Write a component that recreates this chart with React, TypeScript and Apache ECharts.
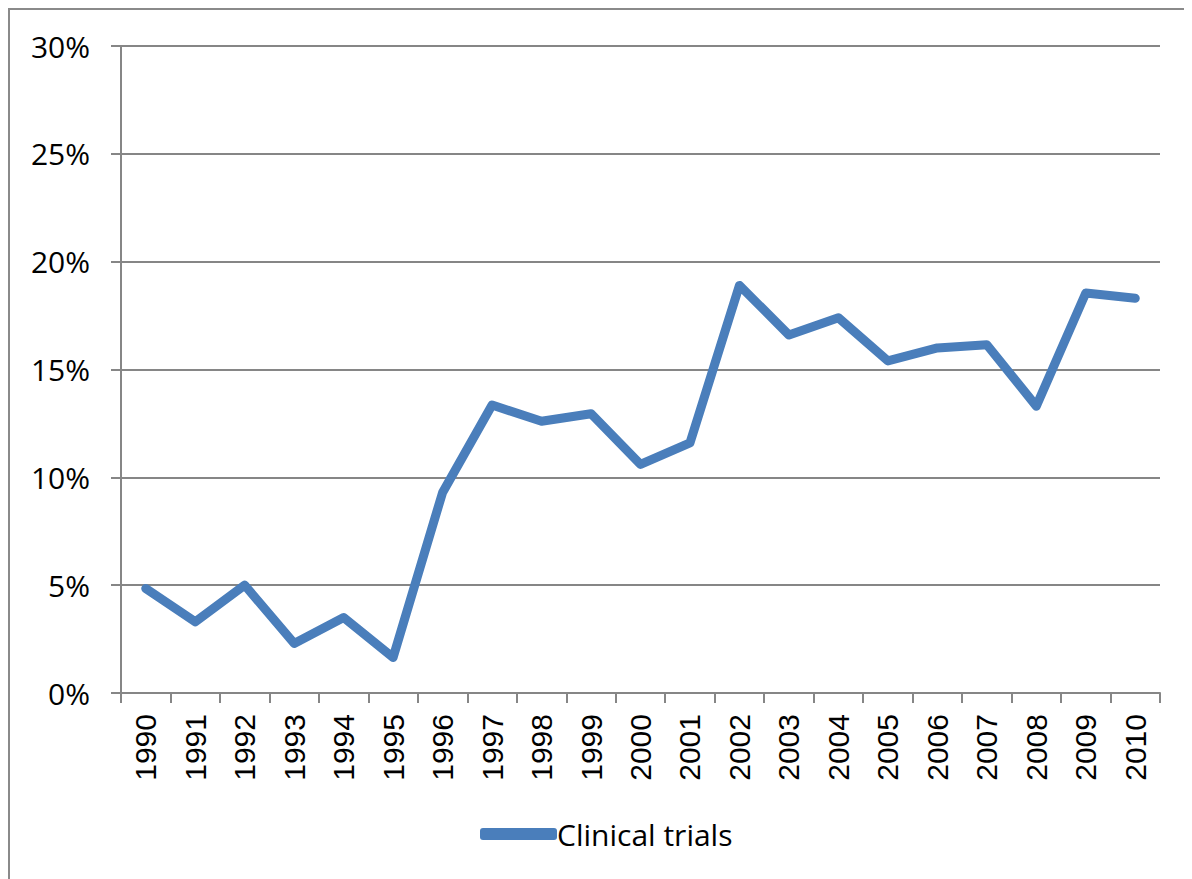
import React, { useEffect, useRef } from "react";
import * as echarts from "echarts";

const years = ["1990","1991","1992","1993","1994","1995","1996","1997","1998","1999","2000","2001","2002","2003","2004","2005","2006","2007","2008","2009","2010"];
const clinicalTrials = [4.85, 3.3, 5.0, 2.3, 3.5, 1.65, 9.3, 13.35, 12.6, 12.95, 10.6, 11.6, 18.9, 16.6, 17.4, 15.4, 16.0, 16.15, 13.3, 18.55, 18.3];
const seriesName = "Clinical trials";

export default function App() {
  const ref = useRef<HTMLDivElement>(null);
  useEffect(() => {
    const chart = echarts.init(ref.current!, null, { renderer: "svg" });
    chart.setOption({
      animation: false,
      backgroundColor: "#ffffff",
      graphic: [
        {
          type: "rect",
          shape: { x: 1, y: 1, width: 1300, height: 1000 },
          style: { fill: "none", stroke: "#8a8a8a", lineWidth: 2 },
          silent: true,
        },
      ],
      grid: { left: 113, top: 38, width: 1039, height: 647, containLabel: false },
      legend: {
        top: 806,
        left: 467,
        data: [{ name: seriesName, icon: "roundRect" }],
        itemWidth: 77,
        itemHeight: 12,
        itemGap: 0,
        textStyle: { fontFamily: "Open Sans", fontSize: 30, color: "#000", padding: [0, 0, 0, -5] },
      },
      xAxis: {
        type: "category",
        data: years,
        boundaryGap: true,
        axisLine: { lineStyle: { color: "#868686", width: 2 } },
        axisTick: { show: true, length: 10, lineStyle: { color: "#868686", width: 2 } },
        axisLabel: {
          rotate: 90,
          margin: 21,
          fontFamily: "Liberation Sans",
          fontSize: 30,
          color: "#000",
          interval: 0,
        },
      },
      yAxis: {
        type: "value",
        min: 0,
        max: 30,
        interval: 5,
        axisLine: { show: true, lineStyle: { color: "#868686", width: 2 } },
        axisTick: { show: true, length: 10, lineStyle: { color: "#868686", width: 2 } },
        splitLine: { lineStyle: { color: "#868686", width: 2 } },
        axisLabel: {
          formatter: "{value}%",
          margin: 31,
          fontFamily: "Open Sans",
          fontSize: 30,
          color: "#000",
        },
      },
      series: [
        {
          name: seriesName,
          type: "line",
          data: clinicalTrials,
          showSymbol: false,
          symbol: "none",
          lineStyle: { color: "#4a7ebb", width: 9, cap: "round", join: "round" },
          itemStyle: { color: "#4a7ebb" },
        },
      ],
    });
    return () => chart.dispose();
  }, []);
  return <div ref={ref} style={{ width: 1184, height: 871 }} />;
}
